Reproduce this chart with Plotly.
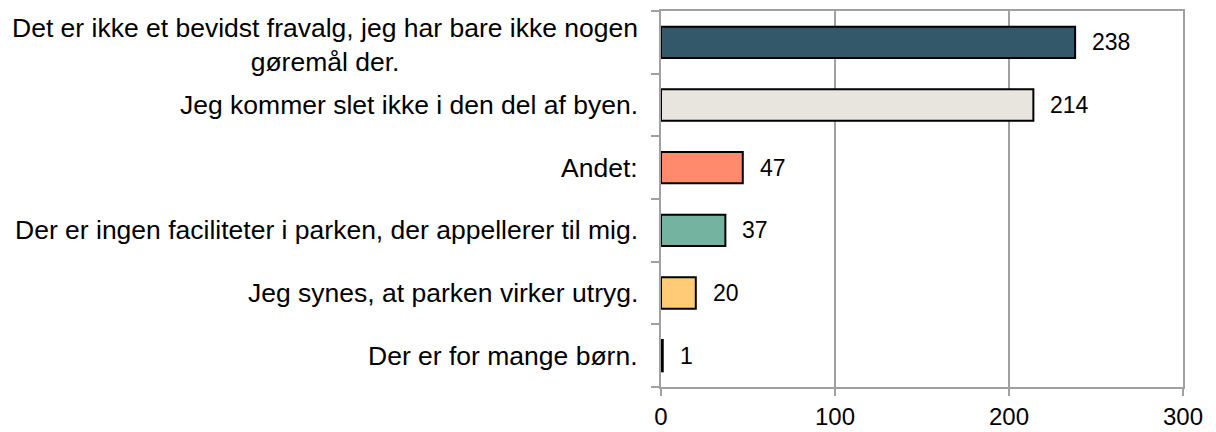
import plotly.graph_objects as go

categories = [
    "Det er ikke et bevidst fravalg, jeg har bare ikke nogen<br>gøremål der.",
    "Jeg kommer slet ikke i den del af byen.",
    "Andet:",
    "Der er ingen faciliteter i parken, der appellerer til mig.",
    "Jeg synes, at parken virker utryg.",
    "Der er for mange børn.",
]
values = [238, 214, 47, 37, 20, 1]
colors = ["#325869", "#e8e5de", "#ff8a6c", "#74b3a0", "#ffcb76", "#325869"]
x_ticks = [0, 100, 200, 300]

FONT = "Liberation Sans, Arial, sans-serif"
ids = list(range(len(categories)))

fig = go.Figure()
fig.add_trace(go.Bar(
    y=ids, x=values, orientation="h",
    marker=dict(color=colors, line=dict(color="#000000", width=2)),
    width=0.5,
    hoverinfo="skip",
))

annotations = []
for i, (c, v) in enumerate(zip(categories, values)):
    annotations.append(dict(
        x=0, y=i, xref="x", yref="y", text=c, showarrow=False,
        xanchor="right", yanchor="middle", align="center", xshift=-21,
        yshift=-3 if "<br>" in c else 0,
        font=dict(family=FONT, size=26.5, color="#000000"),
    ))
    annotations.append(dict(
        x=v, y=i, xref="x", yref="y", text=str(v), showarrow=False,
        xanchor="left", yanchor="middle", xshift=15,
        font=dict(family=FONT, size=23, color="#000000"),
    ))

# the page body has an 8px margin, so the figure is sized to fit the window
fig.update_layout(
    width=1208, height=424,
    margin=dict(l=653, r=33, t=1, b=45),
    paper_bgcolor="white", plot_bgcolor="white",
    showlegend=False,
    annotations=annotations,
    xaxis=dict(
        range=[0, 300], tickvals=x_ticks, ticktext=[str(t) for t in x_ticks],
        showgrid=True, gridcolor="#a0a0a0", gridwidth=1.5,
        showline=True, linecolor="#a0a0a0", linewidth=2, mirror=True,
        ticks="outside", ticklen=7, tickcolor="#a0a0a0", tickwidth=2,
        tickfont=dict(family=FONT, size=24, color="#000000"),
        zeroline=False, fixedrange=True,
    ),
    yaxis=dict(
        range=[len(categories) - 0.5, -0.5],
        tickmode="array",
        tickvals=[i - 0.5 for i in range(len(categories) + 1)],
        ticktext=[""] * (len(categories) + 1),
        showgrid=False,
        showline=True, linecolor="#a0a0a0", linewidth=2, mirror=True,
        ticks="outside", ticklen=8, tickcolor="#a0a0a0", tickwidth=2,
        zeroline=False, fixedrange=True,
    ),
)

fig.write_html("out.html")
